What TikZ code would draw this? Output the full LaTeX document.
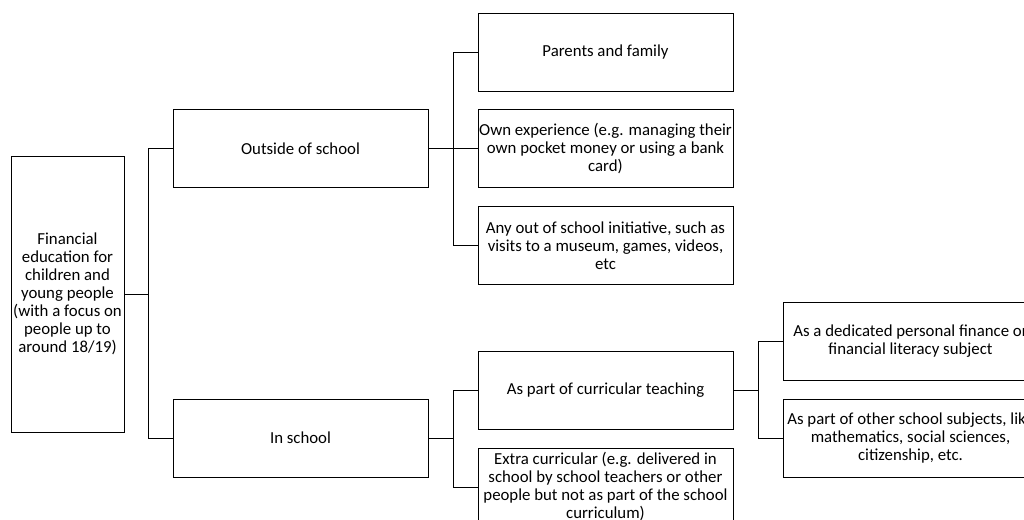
\documentclass[tikz,border=0pt]{standalone}
\usepackage{fontspec}
\setmainfont{Carlito}
\begin{document}
\begin{tikzpicture}[x=0.75pt,y=-0.75pt,
  box/.style={draw=black,line width=0.75pt,rectangle,inner sep=0pt,align=center,
    minimum width=191.25pt,minimum height=58.5pt,font=\fontsize{12.6}{13.5}\selectfont},
  rootbox/.style={box,minimum width=84.75pt,minimum height=207pt},
  link/.style={draw=black,line width=0.75pt}]
\useasboundingbox (0,0) rectangle (1024,519);
\clip (0,0) rectangle (1024,519);
\node[rootbox] (root) at (67.5,294) {Financial\\education for\\children and\\young people\\(with a focus on\\people up to\\around 18/19)};
\node[box] (out) at (300.5,148.5) {Outside of school};
\node[box] (ins) at (300.5,438) {In school};
\node[box] (par) at (605.5,52) {Parents and family};
\node[box] (own) at (605.5,148.5) {Own experience (e.g. managing their\\own pocket money or using a bank\\card)};
\node[box] (any) at (605.5,245.5) {Any out of school initiative, such as\\visits to a museum, games, videos,\\etc};
\node[box] (cur) at (605.5,390) {As part of curricular teaching};
\node[box] (ext) at (605.5,487) {Extra curricular (e.g. delivered in\\school by school teachers or other\\people but not as part of the school\\curriculum)};
\node[box] (ded) at (910.5,341.5) {As a dedicated personal finance or\\financial literacy subject};
\node[box] (oth) at (910.5,438) {As part of other school subjects, like\\mathematics, social sciences,\\citizenship, etc.};
\coordinate (b1) at (148,294);
\coordinate (b2) at (453,148.5);
\coordinate (b3) at (453,438);
\coordinate (b4) at (758,390);
\draw[link] (root.east) -- (b1) |- (out.west);
\draw[link] (b1) |- (ins.west);
\draw[link] (out.east) -- (b2) |- (par.west);
\draw[link] (b2) -- (own.west);
\draw[link] (b2) |- (any.west);
\draw[link] (ins.east) -- (b3) |- (cur.west);
\draw[link] (b3) |- (ext.west);
\draw[link] (cur.east) -- (b4) |- (ded.west);
\draw[link] (b4) |- (oth.west);
\end{tikzpicture}
\end{document}
